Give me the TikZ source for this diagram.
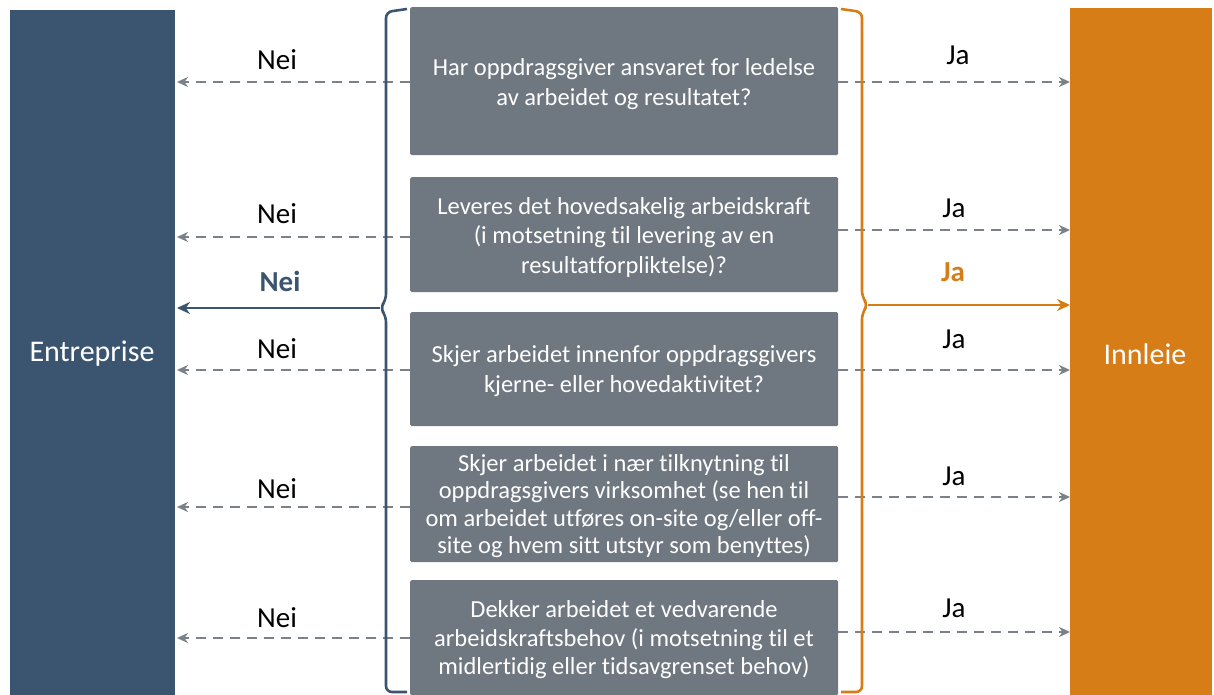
\documentclass[tikz,border=0pt]{standalone}
\usepackage{fontspec}
\setmainfont[Ligatures=NoCommon]{Carlito}
\usetikzlibrary{arrows.meta}
\definecolor{eblue}{HTML}{3B5571}
\definecolor{iorange}{HTML}{D67D17}
\definecolor{qgray}{HTML}{6F7780}
\definecolor{dgray}{HTML}{7A8189}
\begin{document}
\begin{tikzpicture}[x=1pt,y=-1pt,
  bar/.style={draw=none,anchor=north west,inner sep=0pt},
  qbox/.style={fill=qgray,rounded corners=1.5pt,anchor=north west,inner sep=0pt},
  qtext/.style={text=white,align=center,font=\fontsize{24.5}{29.5}\selectfont},
  qtextb/.style={text=white,align=center,font=\fontsize{24.5}{27.6}\selectfont},
  dasharr/.style={draw=dgray,line width=2.7pt,dash pattern=on 10pt off 7pt,-{Stealth[length=11pt,width=10pt]}},
  lbl/.style={font=\fontsize{29}{34}\selectfont,text=black},
  bracel/.style={draw=eblue,line width=2.6pt,rounded corners=6pt},
  bracer/.style={draw=iorange,line width=2.6pt,rounded corners=6pt}]
\useasboundingbox (0,0) rectangle (1214,695);
% side bars
\node[bar,fill=eblue,minimum width=165pt,minimum height=685pt] (E) at (10,10) {};
\node[text=white,font=\fontsize{30}{34}\selectfont] (Et) at (92,354) {Entreprise};
\node[bar,fill=iorange,minimum width=142pt,minimum height=687pt] (I) at (1070,8) {};
\node[text=white,font=\fontsize{30}{34}\selectfont] (It) at (1145,354) {Innleie};
% question boxes
\node[qbox,minimum width=428pt,minimum height=148pt] (q1) at (410,7) {};
\node[qtext] (q1t) at (624,84) {Har oppdragsgiver ansvaret for ledelse\\av arbeidet og resultatet?};
\node[qbox,minimum width=428pt,minimum height=115pt] (q2) at (410,177) {};
\node[qtext] (q2t) at (624,237) {Leveres det hovedsakelig arbeidskraft\\(i motsetning til levering av en\\resultatforpliktelse)?};
\node[qbox,minimum width=428pt,minimum height=114pt] (q3) at (410,312) {};
\node[qtext] (q3t) at (624,371) {Skjer arbeidet innenfor oppdragsgivers\\kjerne- eller hovedaktivitet?};
\node[qbox,minimum width=428pt,minimum height=116pt] (q4) at (410,446) {};
\node[qtextb] (q4t) at (624,506) {Skjer arbeidet i nær tilknytning til\\oppdragsgivers virksomhet (se hen til\\om arbeidet utføres on-site og/eller off-\\site og hvem sitt utstyr som benyttes)};
\node[qbox,minimum width=428pt,minimum height=115pt] (q5) at (410,580) {};
\node[qtextb,font=\fontsize{24.5}{28.5}\selectfont] (q5t) at (624,640) {Dekker arbeidet et vedvarende\\arbeidskraftsbehov (i motsetning til et\\midlertidig eller tidsavgrenset behov)};
% coordinates for arrow ends
\coordinate (l1) at (410,82); \coordinate (L1) at (177,82);
\coordinate (r1) at (838,82); \coordinate (R1) at (1070,82);
\coordinate (l2) at (410,237); \coordinate (L2) at (177,237);
\coordinate (r2) at (838,230); \coordinate (R2) at (1070,230);
\coordinate (l3) at (410,370); \coordinate (L3) at (177,370);
\coordinate (r3) at (838,370); \coordinate (R3) at (1070,370);
\coordinate (l4) at (410,507); \coordinate (L4) at (177,507);
\coordinate (r4) at (838,497); \coordinate (R4) at (1070,497);
\coordinate (l5) at (410,638); \coordinate (L5) at (177,638);
\coordinate (r5) at (838,632); \coordinate (R5) at (1070,632);
\foreach \i in {1,...,5}{
  \draw[dasharr] (l\i) -- (L\i);
  \draw[dasharr] (r\i) -- (R\i);
}
% labels
\node[lbl] (n1) at (277,60) {Nei};
\node[lbl] (n2) at (277,214) {Nei};
\node[lbl] (n3) at (277,349) {Nei};
\node[lbl] (n4) at (277,489) {Nei};
\node[lbl] (n5) at (277,618) {Nei};
\node[lbl] (j1) at (958,55) {Ja};
\node[lbl] (j2) at (954,208) {Ja};
\node[lbl] (j3) at (954,339) {Ja};
\node[lbl] (j4) at (954,476) {Ja};
\node[lbl] (j5) at (954,608) {Ja};
\node[font=\bfseries\fontsize{29}{34}\selectfont,text=eblue] (nb) at (280,281) {Nei};
\node[font=\bfseries\fontsize{29}{34}\selectfont,text=iorange] (jb) at (953,272) {Ja};
% braces
\coordinate (bl) at (380,308);
\coordinate (br) at (868,305);
\draw[bracel] (407,9) -- (386,12) -- (386,300) -- (bl) -- (386,316) -- (386,692) -- (407,692);
\draw[bracer] (841,9) -- (862,12) -- (862,297) -- (br) -- (862,313) -- (862,692) -- (841,692);
\coordinate (BL) at (177,308);
\coordinate (BR) at (1070,305);
\draw[draw=eblue,line width=2.6pt,-{Stealth[length=13pt,width=12pt]}] (bl) -- (BL);
\draw[draw=iorange,line width=2.6pt,-{Stealth[length=13pt,width=12pt]}] (br) -- (BR);
\end{tikzpicture}
\end{document}
